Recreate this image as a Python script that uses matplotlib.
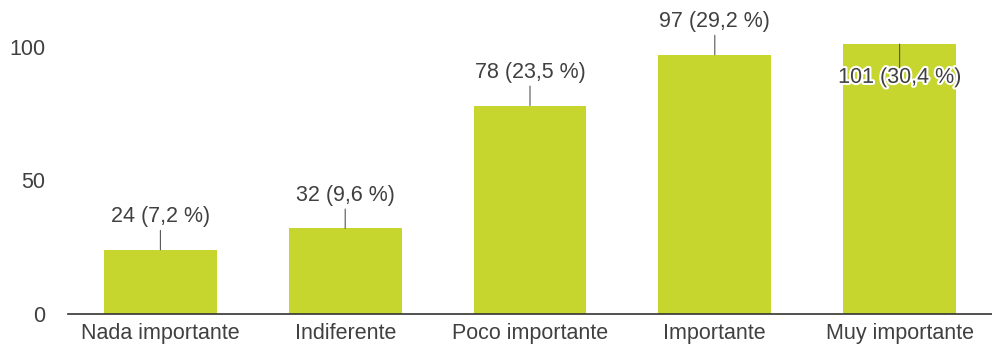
import matplotlib.pyplot as plt
import matplotlib.patheffects as pe

categories = ["Nada importante", "Indiferente", "Poco importante", "Importante", "Muy importante"]
counts = [24, 32, 78, 97, 101]
percents = ["7,2", "9,6", "23,5", "29,2", "30,4"]

bar_color = "#c6d62f"
text_color = "#404040"

plt.rcParams["font.family"] = ["Liberation Sans", "DejaVu Sans"]

fig = plt.figure(figsize=(9.92, 3.45), dpi=100)
ax = fig.add_axes([68 / 992, 31 / 345, 924 / 992, 294 / 345])

x = range(len(categories))
ax.bar(x, counts, width=0.61, color=bar_color, zorder=2)

ax.set_xlim(-0.5, 4.5)
ax.set_ylim(0, 110)
ax.set_yticks([0, 50, 100])
ax.set_xticks(list(x))
ax.set_xticklabels(categories)
ax.tick_params(axis="both", length=0, labelsize=15.5, colors=text_color)
ax.tick_params(axis="y", pad=16.5)
ax.tick_params(axis="x", pad=6.5)

for side in ["top", "right", "left"]:
    ax.spines[side].set_visible(False)
ax.spines["bottom"].set_color("#333333")
ax.spines["bottom"].set_linewidth(1.2)

for i, (v, p) in enumerate(zip(counts, percents)):
    label = f"{v} ({p} %)"
    inside = v > 100
    sign = -1 if inside else 1
    # leader line from bar top to the label
    ax.annotate("", xy=(i, v), xytext=(0, sign * (17 if inside else 14)),
                textcoords="offset points",
                arrowprops=dict(arrowstyle="-", color="#555555", lw=0.8,
                                shrinkA=0, shrinkB=0))
    t = ax.annotate(label, xy=(i, v), xytext=(0, sign * 24),
                    textcoords="offset points", ha="center", va="center",
                    fontsize=15.5, color=text_color)
    if inside:
        t.set_path_effects([pe.withStroke(linewidth=3, foreground="white")])

fig.savefig("out.png", dpi=100)
